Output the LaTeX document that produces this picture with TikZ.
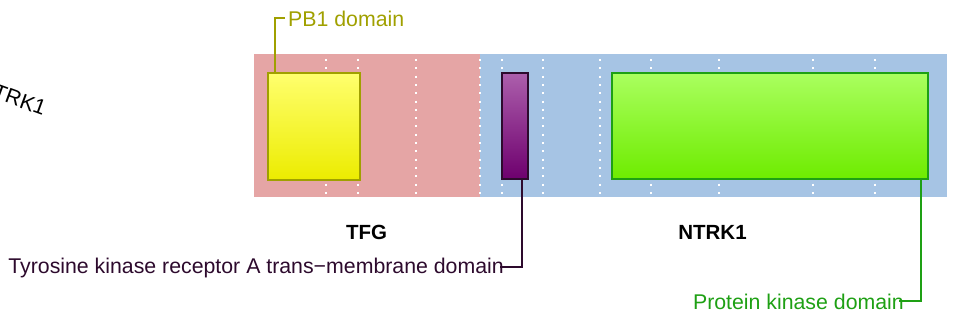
\documentclass[tikz,border=0pt]{standalone}
\usepackage{fontspec}
\setmainfont{Liberation Sans}
\definecolor{pinkband}{RGB}{229,165,165}
\definecolor{blueband}{RGB}{166,196,228}
\definecolor{pbcol}{RGB}{160,160,0}
\definecolor{tmcol}{RGB}{45,10,45}
\definecolor{pkcol}{RGB}{30,160,20}
\tikzset{
  lbl/.style={inner sep=0pt, font=\fontsize{21.3}{25}\selectfont},
  blbl/.style={inner sep=0pt, font=\fontsize{20.5}{25}\selectfont\bfseries},
  dom/.style={draw, line width=1.6pt, inner sep=0pt, anchor=north west},
  dots/.style={white, line width=2pt, dash pattern=on 2pt off 6.3pt},
  conn/.style={line width=2pt}
}
\begin{document}
\begin{tikzpicture}[x=1pt,y=-1pt]
\useasboundingbox (0,0) rectangle (955,327);
\clip (0,0) rectangle (955,327);
% bands
\fill[pinkband] (254,54) rectangle (480,197);
\fill[blueband] (480,54) rectangle (947,197);
% dotted grid lines
\foreach \xx in {326,358,416,480,502,543,600,651,719,813,875}
  \draw[dots] (\xx,59) -- (\xx,197);
% domains
\node[dom, draw=pbcol, top color={rgb,255:red,255;green,255;blue,110}, bottom color={rgb,255:red,236;green,236;blue,0},
  minimum width=92pt, minimum height=107pt] (pbbox) at (267,72) {};
\node[dom, draw=tmcol, top color={rgb,255:red,172;green,95;blue,172}, bottom color={rgb,255:red,110;green,0;blue,110},
  minimum width=26pt, minimum height=106pt] (tmbox) at (501,72) {};
\node[dom, draw=pkcol, top color={rgb,255:red,170;green,255;blue,95}, bottom color={rgb,255:red,110;green,236;blue,0},
  minimum width=316pt, minimum height=106pt] (pkbox) at (611,72) {};
% labels
\node[lbl, text=pbcol, anchor=base west] (pb) at (288,26) {PB1 domain};
\node[lbl, text=tmcol, anchor=base east] (tm) at (504,273) {Tyrosine kinase receptor A trans−membrane domain};
\node[lbl, text=pkcol, anchor=base east] (pk) at (904,309) {Protein kinase domain};
\node[blbl, anchor=base] (tfg) at (366.5,239) {TFG};
\node[blbl, anchor=base] (ntrk) at (712.5,239) {NTRK1};
\node[lbl, anchor=base east, rotate=-20] (side) at (43,116) {NTRK1};
% connectors
\draw[conn, pbcol] ([xshift=8pt]pbbox.north west) |- ([xshift=-3pt]pb.west);
\draw[conn, tmcol] ([xshift=-7pt]tmbox.south east) |- ([xshift=-4pt]tm.east);
\draw[conn, pkcol] ([xshift=-8pt]pkbox.south east) |- ([xshift=-5pt]pk.east);
\end{tikzpicture}
\end{document}
